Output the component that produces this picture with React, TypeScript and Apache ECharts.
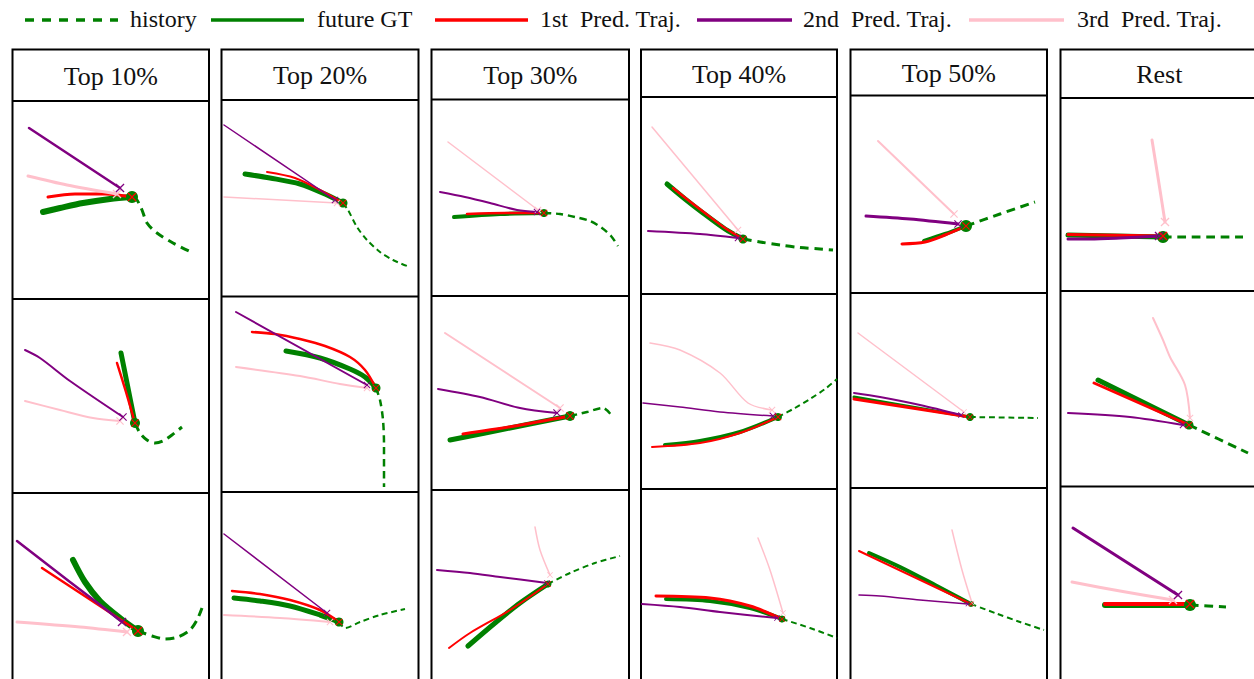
import React, { useEffect, useRef } from "react";
import * as echarts from "echarts";

type Pt = [number, number];
interface Panel { history: Pt[]; gt: Pt[]; pred1: Pt[]; pred2: Pt[]; pred3: Pt[] }

// ---------- text ----------
const legendLabels = ["history", "future GT", "1st  Pred. Traj.", "2nd  Pred. Traj.", "3rd  Pred. Traj."];
const columnTitles = ["Top 10%", "Top 20%", "Top 30%", "Top 40%", "Top 50%", "Rest"];

// ---------- data (scene coordinates) ----------
const p11: Panel = {
  history: [[133, 197], [137, 200], [142, 210], [147, 223], [157, 233], [173, 243], [189, 251]],
  gt: [[132, 197], [110, 199], [83, 203], [60, 208], [43, 212]],
  pred1: [[132, 197], [105, 194], [75, 194], [48, 197]],
  pred2: [[120, 188], [29, 128]],
  pred3: [[117, 194], [67, 185], [28, 176]],
};
const p12: Panel = {
  history: [[343, 203], [348, 210], [357, 227], [367, 240], [380, 252], [393, 260], [407, 266]],
  gt: [[343, 203], [325, 194], [300, 184], [270, 178], [245, 174]],
  pred1: [[343, 203], [320, 190], [295, 178], [267, 172]],
  pred2: [[335, 200], [224, 125]],
  pred3: [[337, 203], [224, 197]],
};
const p13: Panel = {
  history: [[544, 213], [560, 214], [575, 217], [590, 221], [602, 228], [611, 236], [618, 246]],
  gt: [[544, 213], [500, 214], [454, 217]],
  pred1: [[544, 213], [505, 213], [467, 214]],
  pred2: [[537, 212], [517, 210], [490, 203], [465, 197], [440, 192]],
  pred3: [[538, 210], [448, 142]],
};
const p14: Panel = {
  history: [[743, 239], [760, 242], [780, 245], [800, 247.5], [820, 249], [833, 250]],
  gt: [[743, 239], [725, 229], [703, 213], [685, 199], [667, 184]],
  pred1: [[743, 239], [725, 228], [705, 213], [688, 200], [673, 188]],
  pred2: [[738, 238], [700, 234], [648, 231]],
  pred3: [[738, 230], [652, 127]],
};
const p15: Panel = {
  history: [[966, 226], [1000, 214], [1035, 202]],
  gt: [[966, 226], [945, 234], [924, 241]],
  pred1: [[966, 226], [945, 235], [925, 242], [902, 244]],
  pred2: [[958, 224], [910, 219], [866, 216]],
  pred3: [[954, 214], [878, 141]],
};
const p16: Panel = {
  history: [[1163, 237], [1243, 237]],
  gt: [[1163, 237], [1068, 235]],
  pred1: [[1163, 236], [1068, 234.5]],
  pred2: [[1159, 236], [1120, 238], [1090, 239], [1068, 239]],
  pred3: [[1165, 222], [1160, 190], [1152, 140]],
};
const p21: Panel = {
  history: [[135, 423], [140, 433], [147, 440], [155, 443], [163, 441], [172, 435], [182, 427]],
  gt: [[135, 423], [128, 388], [121, 353]],
  pred1: [[135, 423], [126, 392], [117, 363]],
  pred2: [[123, 417], [70, 381], [40, 358], [25, 350]],
  pred3: [[120, 421], [93, 418], [60, 410], [25, 401]],
};
const p22: Panel = {
  history: [[376, 388], [380, 400], [383, 420], [384, 445], [384, 487]],
  gt: [[376, 388], [365, 377], [350, 369], [320, 358], [286, 351]],
  pred1: [[376, 388], [365, 370], [350, 357], [325, 346], [300, 339], [275, 334], [252, 332]],
  pred2: [[367, 385], [236, 312]],
  pred3: [[367, 388], [340, 384], [300, 376], [236, 367]],
};
const p23: Panel = {
  history: [[570, 416], [587, 412], [603, 408], [612, 416]],
  gt: [[570, 416], [510, 428], [450, 440]],
  pred1: [[570, 416], [515, 426], [463, 434]],
  pred2: [[557, 413], [520, 408], [480, 397], [438, 389]],
  pred3: [[560, 408], [445, 333]],
};
const p24: Panel = {
  history: [[778, 417], [795, 408], [810, 399], [825, 389], [837, 379]],
  gt: [[778, 417], [740, 432], [700, 441], [665, 445]],
  pred1: [[778, 417], [740, 433], [700, 443], [652, 447]],
  pred2: [[773, 416], [720, 412], [680, 407], [643, 403]],
  pred3: [[772, 410], [748, 403], [720, 373], [680, 350], [650, 343]],
};
const p25: Panel = {
  history: [[970, 417], [1038, 418]],
  gt: [[970, 417], [854, 397]],
  pred1: [[970, 417], [854, 399]],
  pred2: [[961, 415], [920, 405], [880, 397], [854, 393]],
  pred3: [[964, 412], [858, 333]],
};
const p26: Panel = {
  history: [[1189, 425], [1248, 453]],
  gt: [[1189, 425], [1098, 380]],
  pred1: [[1189, 425], [1094, 383]],
  pred2: [[1183, 425], [1130, 417], [1068, 413]],
  pred3: [[1190, 418], [1185, 385], [1170, 357], [1163, 340], [1153, 318]],
};
const p31: Panel = {
  history: [[138, 631], [152, 636], [165, 639], [178, 637], [190, 630], [197, 620], [202, 608]],
  gt: [[138, 631], [120, 618], [100, 601], [85, 582], [73, 560]],
  pred1: [[138, 631], [42, 568]],
  pred2: [[122, 622], [95, 601], [70, 582], [17, 541]],
  pred3: [[127, 632], [80, 627], [17, 622]],
};
const p32: Panel = {
  history: [[339, 622], [345, 628], [360, 622], [380, 615], [405, 609]],
  gt: [[339, 622], [320, 615], [290, 606], [260, 601], [234, 598]],
  pred1: [[339, 622], [320, 610], [290, 600], [260, 594], [232, 591]],
  pred2: [[327, 613], [224, 534]],
  pred3: [[330, 622], [280, 618], [224, 615]],
};
const p33: Panel = {
  history: [[548, 584], [570, 573], [595, 563], [620, 556]],
  gt: [[548, 584], [520, 603], [495, 623], [468, 646]],
  pred1: [[548, 584], [510, 610], [470, 633], [449, 648]],
  pred2: [[547, 583], [500, 577], [470, 573], [437, 570]],
  pred3: [[550, 575], [540, 550], [535, 527]],
};
const p34: Panel = {
  history: [[782, 619], [810, 628], [837, 638]],
  gt: [[782, 619], [750, 608], [710, 601], [666, 599]],
  pred1: [[782, 619], [750, 606], [710, 598], [656, 596]],
  pred2: [[777, 618], [720, 612], [680, 607], [642, 604]],
  pred3: [[783, 613], [770, 570], [758, 538]],
};
const p35: Panel = {
  history: [[971, 604], [995, 613], [1020, 622], [1044, 630]],
  gt: [[971, 604], [935, 585], [900, 567], [869, 553]],
  pred1: [[971, 604], [859, 551]],
  pred2: [[968, 604], [920, 600], [880, 596], [859, 595]],
  pred3: [[972, 603], [962, 570], [952, 530]],
};
const p36: Panel = {
  history: [[1190, 605], [1226, 607]],
  gt: [[1190, 605], [1105, 605]],
  pred1: [[1190, 604], [1105, 604]],
  pred2: [[1178, 595], [1073, 528]],
  pred3: [[1173, 600], [1120, 591], [1072, 582]],
};
const panels: Panel[] = [p11, p12, p13, p14, p15, p16, p21, p22, p23, p24, p25, p26, p31, p32, p33, p34, p35, p36];

// ---------- styles (not data) ----------
// [history, gt, red, purple, pink, dotSize, xSize]
const panelWidths: number[][] = [
  [3, 6, 3, 2.5, 3, 12, 9], [2, 5, 2, 1.5, 1.5, 9, 7], [2.5, 4, 2.5, 2, 1.5, 8, 7],
  [3, 5, 2.5, 2, 1.5, 9, 7], [3, 4, 3, 3, 2, 12, 8], [3, 5, 3, 3, 3, 12, 9],
  [3, 5, 2.5, 2, 2, 10, 8], [2.5, 5, 2.5, 2, 2, 9, 7], [2.5, 5, 3, 2, 2, 10, 8],
  [2, 4, 2, 1.5, 1.5, 8, 7], [2, 3, 3, 2, 1.5, 8, 6], [3, 5, 3, 2, 2, 9, 7],
  [3, 6, 2.5, 2.5, 3, 12, 9], [2, 5, 2.5, 1.5, 2, 9, 7], [2, 5, 2, 2, 1.5, 7, 6],
  [2, 4, 3, 2, 1.5, 7, 6], [2, 4, 2, 1.5, 1.5, 6, 5], [3, 6, 4, 3, 3, 12, 9],
];
const GREEN = "#008000", RED = "#ff0000", PURPLE = "#800080", PINK = "#ffc0cb";
const XPATH = "path://M1,0L5,4L9,0L10,1L6,5L10,9L9,10L5,6L1,10L0,9L4,5L0,1Z";
const FONT = "Liberation Serif";

// column geometry: left, right, header bottom, row1 bottom, row2 bottom
const columnsGeom = [
  [12.5, 209, 101, 299, 493],
  [221.5, 418.5, 100, 296.5, 492],
  [431.5, 629, 99.5, 296, 490],
  [641, 837, 97, 294, 489],
  [850.5, 1047, 95.5, 293, 488],
  [1060.5, 1258, 98, 291, 486.5],
];
const TOP = 49.5;

function buildOption() {
  const series: any[] = [];
  const line = (data: Pt[], color: string, width: number, dashed = false) => ({
    type: "line", data, symbol: "none", smooth: 0.3, silent: true, z: 2,
    lineStyle: { color, width, type: dashed ? [width * 2.9, width * 1.9] : "solid", cap: dashed ? "butt" : "round", join: "round" },
  });
  const mark = (pt: Pt, color: string, size: number, symbol: string) => ({
    type: "scatter", data: [pt], symbol, symbolSize: size, symbolKeepAspect: true, silent: true, z: 3,
    itemStyle: { color, opacity: 1 },
  });
  panels.forEach((p, i) => {
    const w = panelWidths[i];
    series.push(line(p.history, GREEN, w[0], true));
    series.push(line(p.gt, GREEN, w[1]));
    series.push(line(p.pred1, RED, w[2]));
    series.push(line(p.pred2, PURPLE, w[3]));
    series.push(line(p.pred3, PINK, w[4]));
    series.push(mark(p.gt[0], GREEN, w[5], "circle"));
    series.push(mark(p.pred3[0], PINK, w[6], XPATH));
    series.push(mark(p.pred2[0], PURPLE, w[6], XPATH));
    series.push(mark(p.pred1[0], RED, w[6], XPATH));
  });

  const graphic: any[] = [];
  columnsGeom.forEach(([l, r, hb, r1, r2], i) => {
    graphic.push({ type: "rect", shape: { x: l, y: TOP, width: r - l, height: 700 }, style: { fill: "#fff", stroke: "#000", lineWidth: 2 }, z: 0 });
    [hb, r1, r2].forEach((y) => graphic.push({ type: "line", shape: { x1: l, y1: y, x2: r, y2: y }, style: { stroke: "#000", lineWidth: 2 }, z: 1 }));
    graphic.push({
      type: "text", x: (l + r) / 2, y: (TOP + hb) / 2 + 1, z: 1,
      style: { text: columnTitles[i], fontSize: 26, fontFamily: FONT, fill: "#111", align: "center", verticalAlign: "middle" },
    });
  });
  // legend
  const legendItems = [
    { x1: 25, x2: 118, tx: 130, color: GREEN, dash: [9, 8] },
    { x1: 211, x2: 304, tx: 317, color: GREEN, dash: null },
    { x1: 435, x2: 528, tx: 540, color: RED, dash: null },
    { x1: 697, x2: 792, tx: 803, color: PURPLE, dash: null },
    { x1: 969, x2: 1064, tx: 1077, color: PINK, dash: null },
  ];
  legendItems.forEach((it, i) => {
    graphic.push({ type: "line", shape: { x1: it.x1, y1: 20, x2: it.x2, y2: 20 }, style: { stroke: it.color, lineWidth: 3.5, lineDash: it.dash || undefined }, z: 1 });
    graphic.push({ type: "text", x: it.tx, y: 19, style: { text: legendLabels[i], fontSize: 24, fontFamily: FONT, fill: "#111", align: "left", verticalAlign: "middle" }, z: 1 });
  });

  return {
    animation: false,
    backgroundColor: "#fff",
    grid: { left: 0, top: 0, right: 0, bottom: 0 },
    xAxis: { type: "value", min: 0, max: 1254, show: false },
    yAxis: { type: "value", min: 0, max: 679, inverse: true, show: false },
    graphic,
    series,
  };
}

export default function App() {
  const ref = useRef<HTMLDivElement>(null);
  useEffect(() => {
    const chart = echarts.init(ref.current!, undefined, { renderer: "svg" });
    chart.setOption(buildOption() as any);
    return () => chart.dispose();
  }, []);
  return <div ref={ref} style={{ position: "fixed", left: 0, top: 0, width: 1254, height: 679, background: "#fff" }} />;
}
